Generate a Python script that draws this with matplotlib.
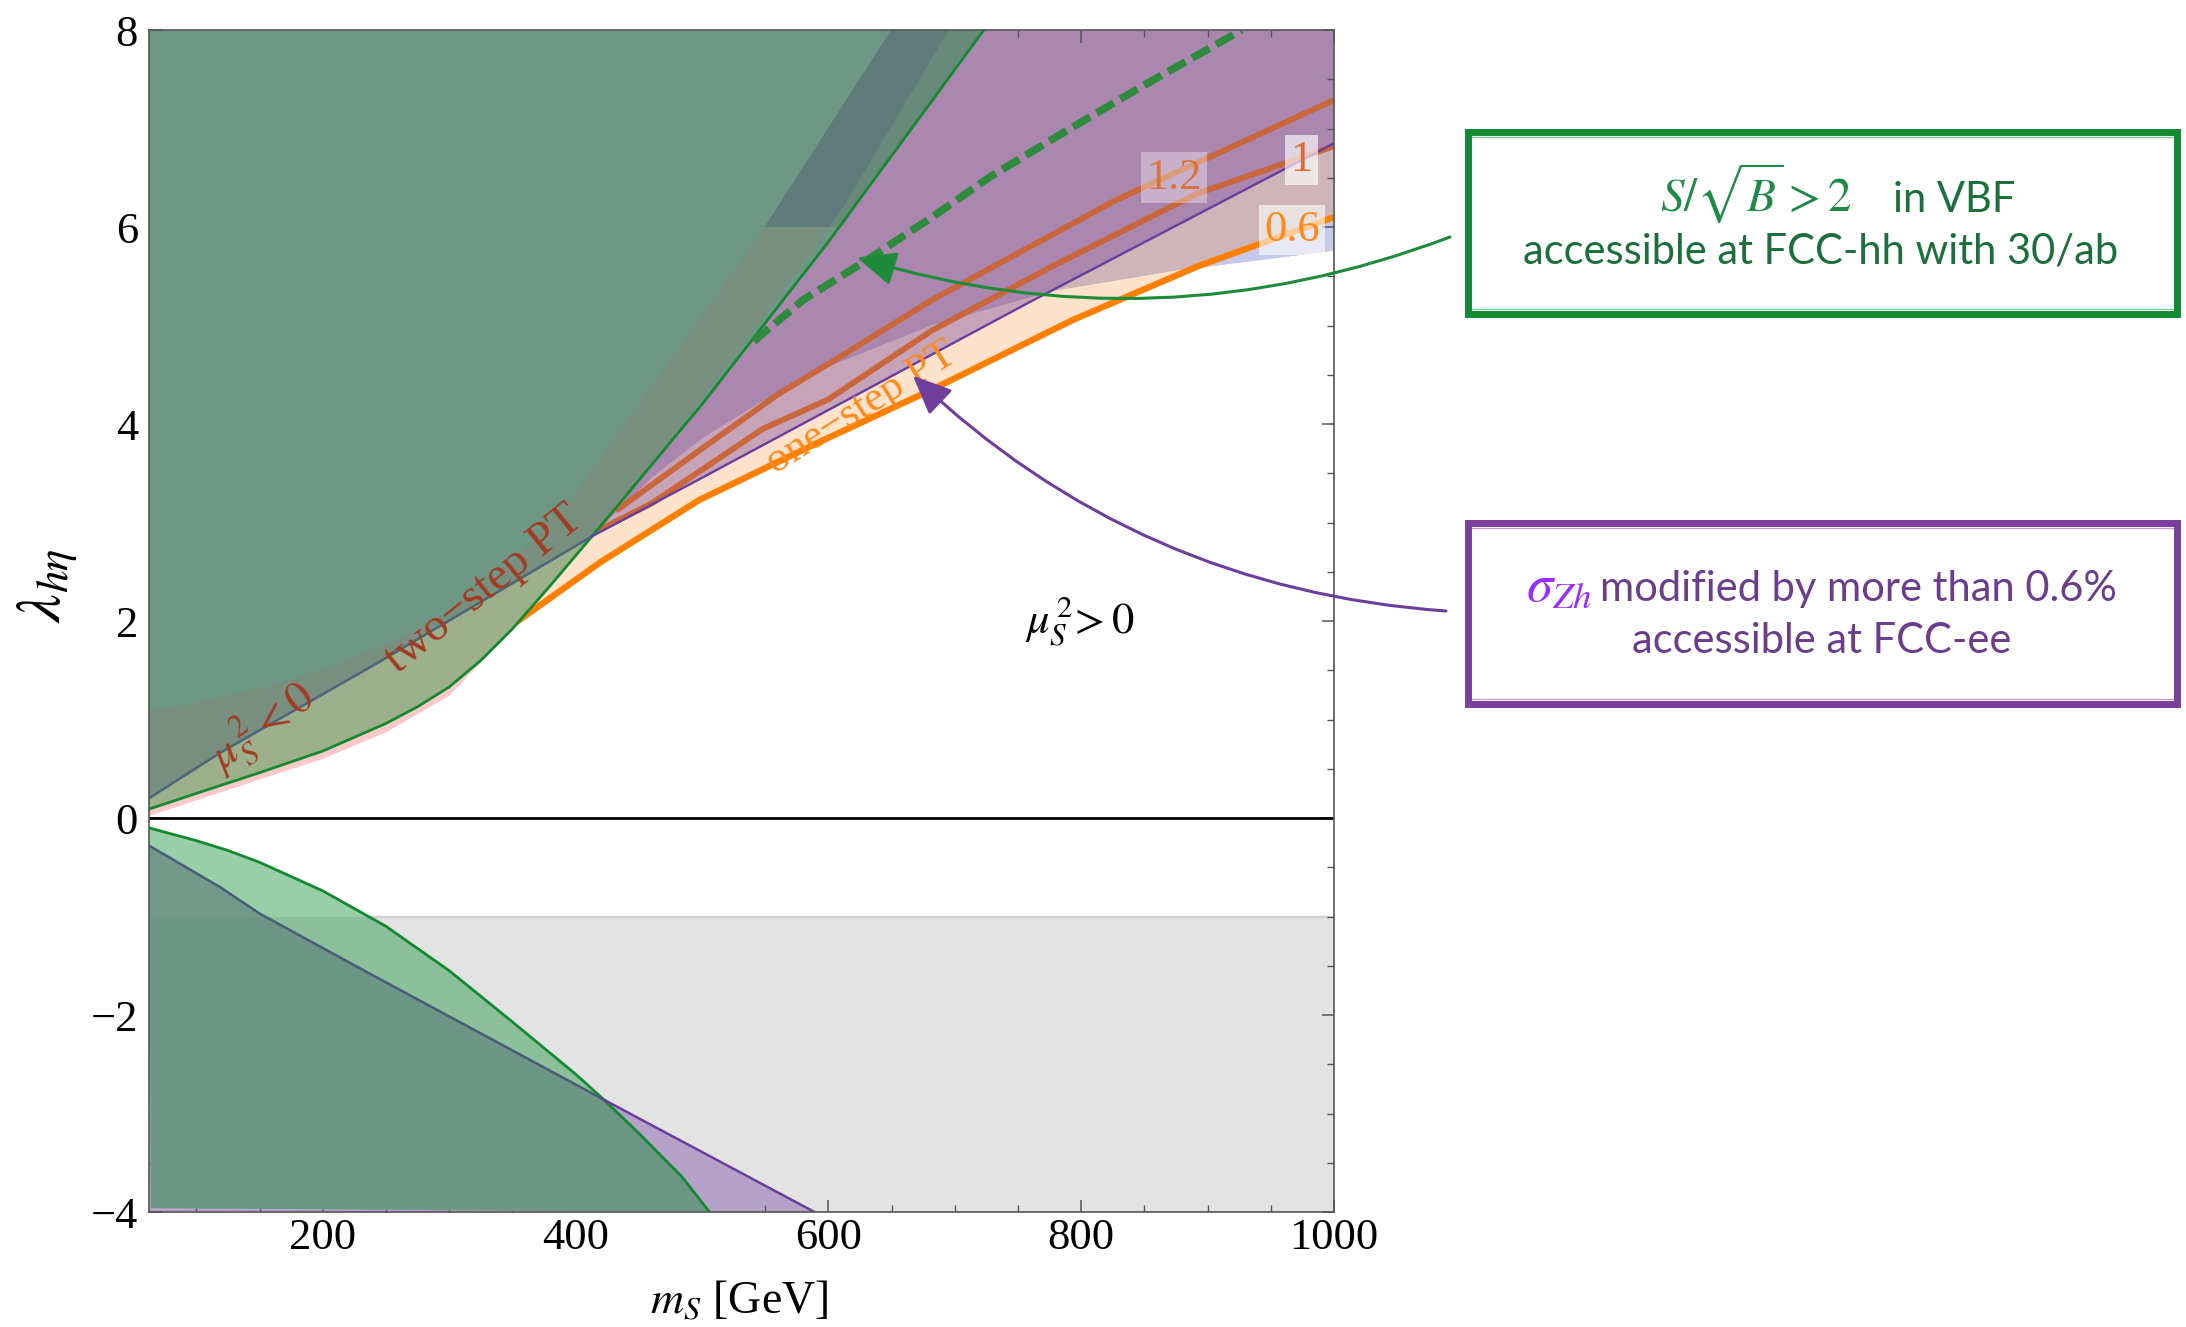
import numpy as np
import matplotlib.pyplot as plt
from matplotlib.patches import Polygon, Rectangle
from matplotlib.ticker import MultipleLocator

plt.rcParams["font.family"] = ["Liberation Serif", "DejaVu Serif"]
plt.rcParams["mathtext.fontset"] = "stix"

XMIN, XMAX, YMIN, YMAX = 62.5, 1000.0, -4.0, 8.0

# FCC-hh VBF reach boundary (upper / lower branch)
green_up_x = [62.5, 100, 150, 200, 250, 275, 300, 325, 350, 380, 413, 500, 600, 723]
green_up_y = [0.09, 0.25, 0.46, 0.68, 0.96, 1.13, 1.33, 1.6, 1.92, 2.36, 2.86, 4.2, 5.85, 8.0]
green_lo_x = [62.5, 100, 125, 150, 200, 250, 300, 350, 400, 422.4, 450, 483.9, 506]
green_lo_y = [-0.1, -0.23, -0.33, -0.45, -0.74, -1.1, -1.55, -2.07, -2.6, -2.86, -3.2, -3.64, -4.0]
# sigma_Zh 0.6% boundary
purple_up_x = [62.5, 118.5, 240, 413, 498, 761, 1000]
purple_up_y = [0.2, 0.66, 1.55, 2.86, 3.44, 5.25, 6.85]
purple_lo_x = [62.5, 118.5, 150, 240, 422.4, 589]
purple_lo_y = [-0.28, -0.70, -0.97, -1.6, -2.86, -4.0]
# lower edge of the phase-transition band
pink_lo_x = [62.5, 100, 150, 200, 250, 300, 350]
pink_lo_y = [0.02, 0.18, 0.39, 0.6, 0.87, 1.24, 1.92]
c06_x = [350, 420, 498, 590, 682, 794, 892, 1000]
c06_y = [1.96, 2.6, 3.23, 3.8, 4.35, 5.06, 5.6, 6.1]
c10_x = [418, 461, 548, 600, 682, 777, 892, 1000]
c10_y = [2.92, 3.2, 3.95, 4.25, 4.95, 5.6, 6.34, 6.82]
c12_x = [432, 500, 560, 609, 682, 827, 1000]
c12_y = [3.12, 3.75, 4.3, 4.68, 5.26, 6.27, 7.29]
# lower edge of the bluish region
blue_lo_x = [413, 460, 500, 544, 600, 682, 778, 876, 1000]
blue_lo_y = [2.86, 3.45, 3.85, 4.2, 4.58, 5.0, 5.35, 5.56, 5.76]
# grey band inside the green region
band_l_x = [62.5, 100, 150, 200, 250, 300, 350, 400, 450, 500, 549.6, 649.5]
band_l_y = [1.08, 1.17, 1.31, 1.5, 1.76, 2.1, 2.6, 3.3, 4.2, 5.1, 6.0, 8.0]
band_r_x = [443.6, 520, 609, 695.6]
band_r_y = [3.3, 4.6, 6.14, 8.0]
band_cut = 6.0
# dashed S/sqrt(B)=2 contour
dash_x = [541, 580, 630, 682, 728, 781, 843, 927]
dash_y = [4.84, 5.26, 5.66, 6.1, 6.51, 6.92, 7.39, 8.0]
grey_top = -1.0
contour_labels = ["1.2", "1", "0.6"]
label_pos = [(873.5, 6.5), (974.4, 6.68), (966.5, 5.97)]


def pts(xs, ys, lo=-1e9, hi=1e9, rev=False):
    p = [(x, y) for x, y in zip(xs, ys) if lo <= x <= hi]
    return p[::-1] if rev else p


fig = plt.figure(figsize=(21.86, 13.27), dpi=100)
ax = fig.add_axes([0.06816, 0.08666, 0.54209, 0.89073])
ax.set_xlim(XMIN, XMAX)
ax.set_ylim(YMIN, YMAX)


def poly(verts, color, z, ymin=None, ymax=None):
    p = Polygon(verts, closed=True, facecolor=color, edgecolor="none", zorder=z)
    ax.add_patch(p)
    if ymin is not None or ymax is not None:
        a = YMIN - 1 if ymin is None else ymin
        b = YMAX + 1 if ymax is None else ymax
        r = Rectangle((XMIN - 10, a), XMAX - XMIN + 20, b - a, transform=ax.transData)
        p.set_clip_path(r)
    return p


# ---- upper half, outside the green region
poly(pts(c06_x, c06_y) + [(XMAX, YMAX)] + pts(green_up_x, green_up_y, lo=350, rev=True),
     "#fde3cb", 1)
poly(pts(pink_lo_x, pink_lo_y) + pts(green_up_x, green_up_y, hi=350, rev=True), "#fbc9c9", 1)
poly(pts(purple_up_x, purple_up_y, 413, 761) + pts(blue_lo_x, blue_lo_y, hi=778, rev=True),
     "#c6a3b8", 1.2)
poly(pts(blue_lo_x, blue_lo_y, lo=778) + pts(purple_up_x, purple_up_y, lo=761, rev=True),
     "#cdb5b9", 1.2)
poly(pts(blue_lo_x, blue_lo_y, lo=876) + pts(c06_x, c06_y, lo=892, rev=True), "#c6c8ec", 1.3)
poly(pts(blue_lo_x, blue_lo_y, hi=778) + pts(purple_up_x, purple_up_y, lo=762) + [(XMAX, YMAX)]
     + pts(green_up_x, green_up_y, lo=413, rev=True), "#ab86ae", 1.2)

ax.plot(c12_x, c12_y, color="#c9663b", lw=4.2, solid_capstyle="butt", zorder=2)
ax.plot(c10_x, c10_y, color="#c9663b", lw=4.2, solid_capstyle="butt", zorder=2)
ax.plot(c06_x, c06_y, color="#ff8000", lw=4.6, solid_capstyle="butt", zorder=2.1)

# ---- upper half, inside the green region
poly(pts(green_up_x, green_up_y) + [(XMIN, YMAX)], "#6e9786", 3)
poly(pts(purple_up_x, purple_up_y, hi=413) + pts(green_up_x, green_up_y, hi=413, rev=True),
     "#9cb18b", 3.1)
band = (pts(band_l_x, band_l_y) + pts(band_r_x, band_r_y, rev=True) + [(413, 2.86)]
        + pts(purple_up_x, purple_up_y, hi=412, rev=True))
poly(band, "#798f7f", 3.1, ymax=band_cut)
poly(band, "#5f7b7a", 3.1, ymin=band_cut)
poly(pts(band_r_x, band_r_y) + pts(green_up_x, green_up_y, lo=444, rev=True), "#678a7b", 3.1,
     ymin=band_cut)

# ---- lower half
ax.fill_between([XMIN, XMAX], YMIN, grey_top, color="#e3e3e3", lw=0, zorder=1)
ax.plot([XMIN, XMAX], [grey_top, grey_top], color="#cfcfcf", lw=1.6, zorder=1.1)
poly(pts(purple_lo_x, purple_lo_y) + [(XMIN, YMIN)], "#b6a2c8", 1.5)
glo = pts(green_lo_x, green_lo_y) + [(XMIN + 1.5, YMIN + 0.04)]
poly(glo, "#99cfa8", 2, ymin=grey_top)
poly(glo, "#8cc09b", 2, ymax=grey_top)
ovl = (pts(purple_lo_x, purple_lo_y, hi=422.4) + pts(green_lo_x, green_lo_y, lo=423)
       + [(XMIN + 1.5, YMIN + 0.04)])
poly(ovl, "#72998a", 2.5, ymin=grey_top)
poly(ovl, "#6e9686", 2.5, ymax=grey_top)

# ---- boundary lines
ax.plot(green_up_x, green_up_y, color="#138a30", lw=2.0, zorder=4)
ax.plot(green_lo_x, green_lo_y, color="#138a30", lw=2.0, zorder=4)
ax.plot(*zip(*pts(purple_up_x, purple_up_y, hi=413)), color="#4c6579", lw=1.8, zorder=4)
ax.plot(*zip(*pts(purple_up_x, purple_up_y, lo=413)), color="#6a3d9e", lw=1.7, zorder=4)
ax.plot(*zip(*pts(purple_lo_x, purple_lo_y, hi=422.4)), color="#4b5a78", lw=1.8, zorder=4)
ax.plot(*zip(*pts(purple_lo_x, purple_lo_y, lo=422.4)), color="#6a3d9e", lw=1.8, zorder=4)
ax.plot(dash_x, dash_y, color="#2e8a3d", lw=5.5, dashes=(2.6, 1.0), zorder=5)
ax.axhline(0, color="black", lw=2.0, zorder=6)

# ---- in-plot labels
ax.text(328, 2.32, "two\u2212step PT", color="#a23b22", fontsize=34, rotation=39,
        ha="center", va="center", zorder=7)
ax.text(626, 4.16, "one\u2212step PT", color="#ff8a1c", fontsize=31, rotation=32,
        ha="center", va="center", zorder=7)
ax.text(152, 0.92, r"$\mu_S^{\,2}<0$", color="#a23b22", fontsize=33, rotation=36,
        ha="center", va="center", zorder=7)
ax.text(799, 2.0, r"$\mu_S^{\,2}\!>0$", color="black", fontsize=32,
        ha="center", va="center", zorder=7)
lab_style = [("#d8743f", 0.35), ("#dc6c30", 0.65), ("#ff8a1a", 0.6)]
for txt, (lx, ly), (col, al) in zip(contour_labels, label_pos, lab_style):
    ax.text(lx, ly, txt, color=col, fontsize=32, ha="center", va="center", zorder=7,
            bbox=dict(boxstyle="square,pad=0.12", fc="white", ec="none", alpha=al))

# ---- axes styling
ax.set_xticks([200, 400, 600, 800, 1000])
ax.set_yticks([-4, -2, 0, 2, 4, 6, 8])
ax.xaxis.set_minor_locator(MultipleLocator(50))
ax.yaxis.set_minor_locator(MultipleLocator(0.5))
ax.tick_params(which="both", direction="in", top=True, right=True, color="#555555",
               labelsize=32)
ax.tick_params(which="major", length=9, width=1.1)
ax.tick_params(which="minor", length=5, width=1.0)
ax.tick_params(axis="x", pad=4)
ax.tick_params(axis="y", pad=8)
for s in ax.spines.values():
    s.set_color("#555555")
    s.set_linewidth(1.2)
    s.set_zorder(8)
ax.set_xlabel(r"$m_S$ [GeV]", fontsize=33)
ax.xaxis.set_label_coords(0.498, -0.058)
ax.set_ylabel(r"$\lambda_{h\eta}$", fontsize=46)
ax.yaxis.set_label_coords(-0.058, 0.53)


# ---- callout boxes
def callout(y0, h, col):
    r = Rectangle((0.6715, y0), 0.3243, h, transform=fig.transFigure, fill=False,
                  ec=col, lw=5.0, zorder=5)
    fig.add_artist(r)
    r2 = Rectangle((0.6725, y0 + 0.004), 0.3225, h - 0.008, transform=fig.transFigure,
                   fill=False, ec=col, lw=1.0, alpha=0.5, zorder=5)
    fig.add_artist(r2)


callout(0.7634, 0.1371, "#108a33")
callout(0.4695, 0.1364, "#7a3f9d")
W, H = 2186.0, 1327.0
sans = dict(family="Lato")
fig.text(1852 / W, 1 - 212 / H, r"$S/\sqrt{B}>2$", color="#1f8a48", fontsize=34,
         ha="right", va="baseline")
fig.text(1893 / W, 1 - 212 / H, "in VBF", color="#1b6f3a", fontsize=30,
         ha="left", va="baseline", **sans)
fig.text(1821 / W, 1 - 264 / H, "accessible at FCC-hh with 30/ab", color="#1b6f3a",
         fontsize=30, ha="center", va="baseline", **sans)
fig.text(1592 / W, 1 - 601 / H, r"$\sigma_{Zh}$", color="#9a2cff", fontsize=38,
         ha="right", va="baseline")
fig.text(1600 / W, 1 - 601 / H, "modified by more than 0.6%", color="#6b3d8c",
         fontsize=30, ha="left", va="baseline", **sans)
fig.text(1822 / W, 1 - 653 / H, "accessible at FCC-ee", color="#6b3d8c",
         fontsize=30, ha="center", va="baseline", **sans)

# ---- arrows from the boxes into the plot
ax.annotate("", xy=(622.6, 5.69), xytext=(1450 / W, 1 - 237 / H),
            textcoords="figure fraction", annotation_clip=False,
            arrowprops=dict(arrowstyle="-|>,head_length=0.8,head_width=0.35",
                            connectionstyle="arc3,rad=-0.17", color="#1d8b3a", lw=2.2,
                            mutation_scale=30, shrinkA=0, shrinkB=0), zorder=9)
ax.annotate("", xy=(666.9, 4.49), xytext=(1446 / W, 1 - 611 / H),
            textcoords="figure fraction", annotation_clip=False,
            arrowprops=dict(arrowstyle="-|>,head_length=0.8,head_width=0.35",
                            connectionstyle="arc3,rad=-0.18", color="#6f3e9c", lw=2.2,
                            mutation_scale=30, shrinkA=0, shrinkB=0), zorder=9)

fig.savefig("out.png", dpi=100)
